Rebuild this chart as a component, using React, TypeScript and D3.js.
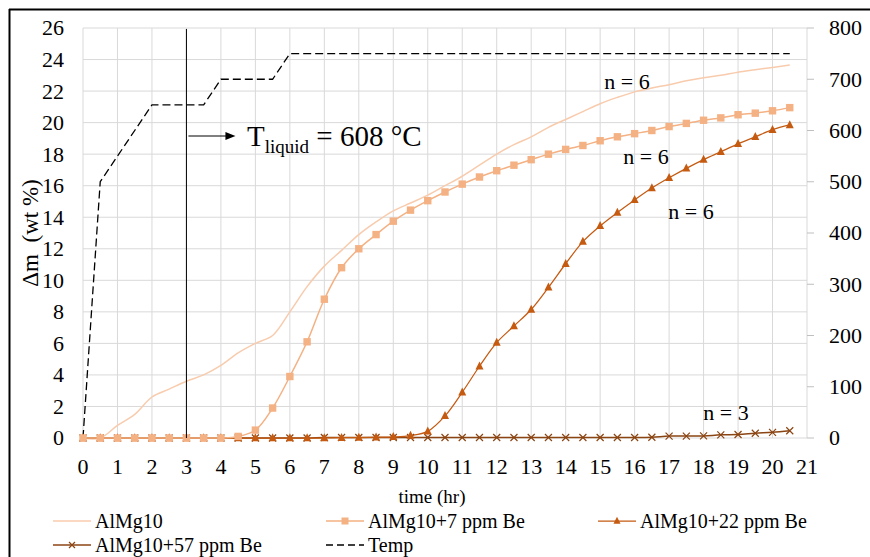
import React from "react";
import * as d3 from "d3";

const time = [0, 0.5, 1, 1.5, 2, 2.5, 3, 3.5, 4, 4.5, 5, 5.5, 6, 6.5, 7, 7.5, 8, 8.5, 9, 9.5, 10, 10.5, 11, 11.5, 12, 12.5, 13, 13.5, 14, 14.5, 15, 15.5, 16, 16.5, 17, 17.5, 18, 18.5, 19, 19.5, 20, 20.5];
const almg10 = [0, 0, 0.8, 1.5, 2.6, 3.1, 3.6, 4.0, 4.6, 5.4, 6.0, 6.5, 8.0, 9.6, 10.9, 11.9, 12.9, 13.7, 14.4, 14.9, 15.4, 16.0, 16.6, 17.3, 18.0, 18.6, 19.1, 19.7, 20.2, 20.7, 21.2, 21.6, 21.95, 22.2, 22.4, 22.65, 22.85, 23.0, 23.2, 23.35, 23.5, 23.65];
const be7 = [0, 0, 0, 0, 0, 0, 0, 0, 0, 0.1, 0.5, 1.9, 3.9, 6.1, 8.8, 10.8, 12.0, 12.9, 13.75, 14.45, 15.05, 15.6, 16.1, 16.55, 16.95, 17.3, 17.65, 18.0, 18.3, 18.55, 18.85, 19.1, 19.3, 19.5, 19.75, 19.95, 20.15, 20.3, 20.5, 20.6, 20.75, 20.95];
const be22 = [0, 0, 0, 0, 0, 0, 0, 0, 0, 0, 0, 0, 0, 0, 0, 0.02, 0.03, 0.05, 0.07, 0.15, 0.42, 1.4, 2.9, 4.55, 6.05, 7.1, 8.15, 9.55, 11.05, 12.45, 13.45, 14.3, 15.1, 15.85, 16.5, 17.1, 17.65, 18.15, 18.65, 19.1, 19.55, 19.85];
const be57 = [0, 0, 0, 0, 0, 0, 0, 0, 0, 0, 0, 0, 0, 0, 0.03, 0.03, 0.03, 0.03, 0.03, 0.03, 0.03, 0.03, 0.03, 0.03, 0.03, 0.03, 0.03, 0.03, 0.03, 0.03, 0.03, 0.03, 0.03, 0.05, 0.12, 0.12, 0.13, 0.2, 0.22, 0.3, 0.36, 0.46];
const temp = [0, 500, 550, 600, 650, 650, 650, 650, 700, 700, 700, 700, 750, 750, 750, 750, 750, 750, 750, 750, 750, 750, 750, 750, 750, 750, 750, 750, 750, 750, 750, 750, 750, 750, 750, 750, 750, 750, 750, 750, 750, 750];

const xTicks = [0, 1, 2, 3, 4, 5, 6, 7, 8, 9, 10, 11, 12, 13, 14, 15, 16, 17, 18, 19, 20, 21];
const yLeftTicks = [0, 2, 4, 6, 8, 10, 12, 14, 16, 18, 20, 22, 24, 26];
const yRightTicks = [0, 100, 200, 300, 400, 500, 600, 700, 800];

const C_ALMG = "#F8CBAD";
const C_7 = "#F4B183";
const C_22 = "#C55A11";
const C_57 = "#8B4513";
const FONT = "'Liberation Serif', 'Times New Roman', Times, serif";

export default function App() {
  const W = 870, H = 557;
  const x = d3.scaleLinear().domain([0, 21]).range([83, 807]);
  const yL = d3.scaleLinear().domain([0, 26]).range([438, 28]);
  const yR = d3.scaleLinear().domain([0, 800]).range([438, 28]);

  const smooth = (vals: number[]) =>
    d3.line<number>().x((_, i) => x(time[i])).y((v) => yL(v)).curve(d3.curveCatmullRom.alpha(0.5))(vals) || "";
  const tempPath = d3.line<number>().x((_, i) => x(time[i])).y((v) => yR(v))(temp) || "";

  const tri = (cx: number, cy: number, s: number) =>
    `M${cx},${cy - s * 0.6}L${cx + s / 2},${cy + s * 0.4}L${cx - s / 2},${cy + s * 0.4}Z`;
  const cross = (cx: number, cy: number, s: number) =>
    `M${cx - s / 2},${cy - s / 2}L${cx + s / 2},${cy + s / 2}M${cx - s / 2},${cy + s / 2}L${cx + s / 2},${cy - s / 2}`;

  const ts = { fontFamily: FONT };

  return (
    <svg width={W} height={H} style={{ position: "absolute", left: 0, top: 0, background: "#fff", fontFamily: FONT }}>
      <rect x={0} y={0} width={W} height={H} fill="#fff" />
      {/* outer border */}
      <line x1={9.5} y1={9} x2={9.5} y2={H} stroke="#000" strokeWidth={2} />
      <line x1={9} y1={9.5} x2={W} y2={9.5} stroke="#000" strokeWidth={2} />

      {/* grid */}
      {xTicks.map((t) => (
        <line key={"gx" + t} x1={x(t)} x2={x(t)} y1={yL(26)} y2={yL(0)} stroke="#d9d9d9" strokeWidth={1} />
      ))}
      {yLeftTicks.map((t) => (
        <line key={"gy" + t} x1={x(0)} x2={x(21)} y1={yL(t)} y2={yL(t)} stroke="#d9d9d9" strokeWidth={1} />
      ))}
      {/* right axis ticks */}
      {yRightTicks.map((t) => (
        <line key={"rt" + t} x1={x(21)} x2={x(21) + 7} y1={yR(t)} y2={yR(t)} stroke="#bfbfbf" strokeWidth={1} />
      ))}

      {/* tick labels */}
      {yLeftTicks.map((t) => (
        <text key={"yl" + t} style={ts} x={64} y={yL(t)} dy="0.34em" textAnchor="end" fontSize={22}>{t}</text>
      ))}
      {yRightTicks.map((t) => (
        <text key={"yr" + t} style={ts} x={829} y={yR(t)} dy="0.34em" textAnchor="start" fontSize={22}>{t}</text>
      ))}
      {xTicks.map((t) => (
        <text key={"xl" + t} style={ts} x={x(t)} y={474} textAnchor="middle" fontSize={22}>{t}</text>
      ))}

      {/* axis titles */}
      <text style={ts} x={432} y={503} textAnchor="middle" fontSize={19}>time (hr)</text>
      <text style={ts} transform={`translate(30,233) rotate(-90)`} dy="0.34em" textAnchor="middle" fontSize={23}>{"Δm\u00A0\u00A0(wt %)"}</text>

      {/* temperature */}
      <path d={tempPath} fill="none" stroke="#000" strokeWidth={1.3} strokeDasharray="8,4" />

      {/* series */}
      <path d={smooth(almg10)} fill="none" stroke={C_ALMG} strokeWidth={1.5} />
      <path d={smooth(be57)} fill="none" stroke={C_57} strokeWidth={1.5} />
      <path d={smooth(be22)} fill="none" stroke={C_22} strokeWidth={1.25} />
      <path d={smooth(be7)} fill="none" stroke={C_7} strokeWidth={1.5} />
      {be57.map((v, i) => (
        <path key={"m57" + i} d={cross(x(time[i]), yL(v), 7)} stroke={C_57} strokeWidth={1.2} fill="none" />
      ))}
      {be22.map((v, i) => (
        <path key={"m22" + i} d={tri(x(time[i]), yL(v), 8)} fill={C_22} />
      ))}
      {be7.map((v, i) => (
        <rect key={"m7" + i} x={x(time[i]) - 3.7} y={yL(v) - 3.7} width={7.4} height={7.4} fill={C_7} />
      ))}

      {/* liquidus line & annotation */}
      <line x1={x(3)} x2={x(3)} y1={29} y2={yL(0)} stroke="#000" strokeWidth={1} />
      <line x1={x(3) + 2} x2={x(3) + 42} y1={136} y2={136} stroke="#000" strokeWidth={1} />
      <path d={`M${x(3) + 49},136 L${x(3) + 39},132 L${x(3) + 39},140 Z`} fill="#000" />
      <text style={ts} x={247} y={146} fontSize={29}>
        T<tspan fontSize={19} dy={7}>liquid</tspan><tspan dy={-7}> = 608 °C</tspan>
      </text>

      {/* n labels */}
      <text style={ts} x={627} y={82} dy="0.34em" textAnchor="middle" fontSize={22}>n = 6</text>
      <text style={ts} x={646} y={157} dy="0.34em" textAnchor="middle" fontSize={22}>n = 6</text>
      <text style={ts} x={691} y={212} dy="0.34em" textAnchor="middle" fontSize={22}>n = 6</text>
      <text style={ts} x={726} y={413} dy="0.34em" textAnchor="middle" fontSize={22}>n = 3</text>

      {/* legend */}
      <g fontSize={20}>
        <line x1={53} x2={91} y1={521} y2={521} stroke={C_ALMG} strokeWidth={1.5} />
        <text style={ts} x={95} y={521} dy="0.34em">AlMg10</text>

        <line x1={326} x2={364} y1={521} y2={521} stroke={C_7} strokeWidth={1.5} />
        <rect x={345 - 3.5} y={521 - 3.5} width={7} height={7} fill={C_7} />
        <text style={ts} x={368} y={521} dy="0.34em">AlMg10+7 ppm Be</text>

        <line x1={598} x2={636} y1={521} y2={521} stroke={C_22} strokeWidth={1.25} />
        <path d={tri(617, 521, 7)} fill={C_22} />
        <text style={ts} x={640} y={521} dy="0.34em">AlMg10+22 ppm Be</text>

        <line x1={53} x2={91} y1={545} y2={545} stroke={C_57} strokeWidth={1.5} />
        <path d={cross(72, 545, 6)} stroke={C_57} strokeWidth={1.2} fill="none" />
        <text style={ts} x={95} y={545} dy="0.34em">AlMg10+57 ppm Be</text>

        <line x1={326} x2={364} y1={545} y2={545} stroke="#000" strokeWidth={1.3} strokeDasharray="7,4" />
        <text style={ts} x={368} y={545} dy="0.34em">Temp</text>
      </g>
    </svg>
  );
}
